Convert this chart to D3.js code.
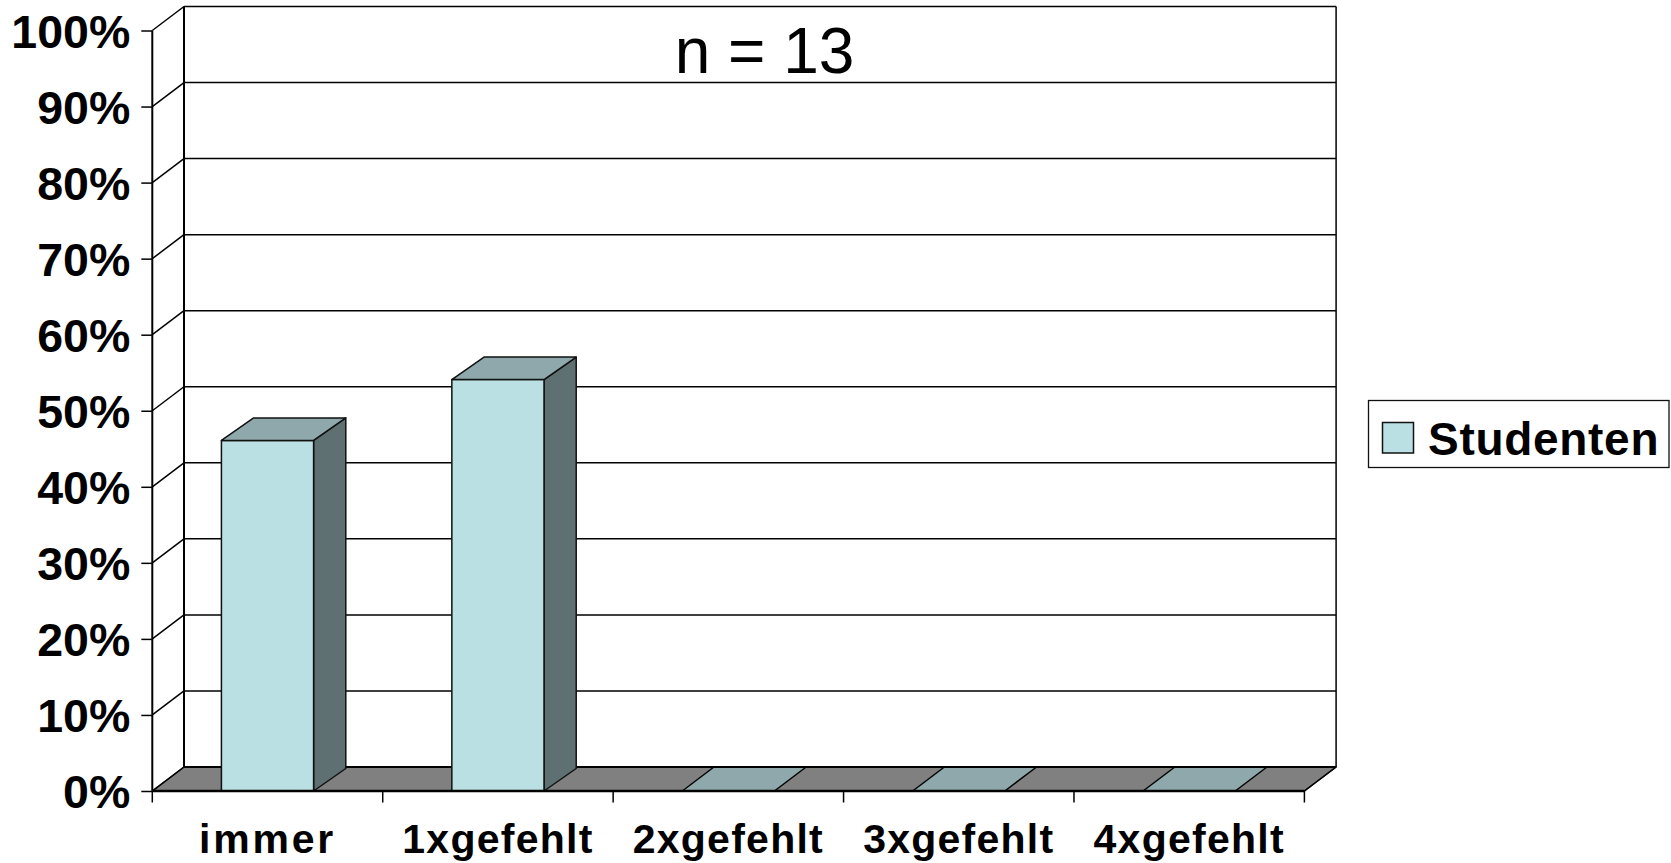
<!DOCTYPE html>
<html><head><meta charset="utf-8">
<script src="https://cdn.jsdelivr.net/npm/d3@7/dist/d3.min.js"></script>
<style>html,body{margin:0;padding:0;background:#fff}svg{display:block}
text{font-family:"Liberation Sans",Arial,sans-serif;fill:#000}</style>
</head><body><svg id="c" width="1671" height="863"></svg>
<script>
const categories=["immer","1xgefehlt","2xgefehlt","3xgefehlt","4xgefehlt"];
const values=[46.1,54.1,0,0,0];
const seriesName="Studenten";
const yTicks=[0,10,20,30,40,50,60,70,80,90,100];
const note="n = 13";

const X0=152.3,X1=1304.4,Y0=791,Y1=30.5,DX=31.7,DY=-24,BDX=32.2,BDY=-22.5;
const svg=d3.select("#c");
const x=d3.scaleBand().domain(categories).range([X0,X1]).paddingInner(0.6).paddingOuter(0.3);
const xCat=d3.scaleBand().domain(categories).range([X0,X1]);
const y=d3.scaleLinear().domain([0,100]).range([Y0,Y1]);
const LW=1.5;
const line=(a,b,c,d,w=LW)=>svg.append("line").attr("x1",a).attr("y1",b).attr("x2",c).attr("y2",d).attr("stroke","#000").attr("stroke-width",w);
const poly=(pts,fill)=>svg.append("polygon").attr("points",pts.map(p=>p.join(",")).join(" ")).attr("fill",fill).attr("stroke","#111").attr("stroke-width",LW).attr("stroke-linejoin","round");

// floor
poly([[X0,Y0],[X1,Y0],[X1+DX,Y0+DY],[X0+DX,Y0+DY]],"#808080");
// gridlines and wall
yTicks.forEach(t=>{
  if(t>0) line(X0+DX,y(t)+DY,X1+DX,y(t)+DY,LW);
  line(X0,y(t),X0+DX,y(t)+DY);
});
line(X0+DX,y(100)+DY,X0+DX,y(0)+DY,2);
line(X1+DX,y(100)+DY,X1+DX,y(0)+DY,LW);
line(X1,Y0,X1+DX,Y0+DY);

// flat bars lie on the floor, under its back edge
categories.forEach((c,i)=>{
  if(values[i]>0) return;
  const a=x(c),b=a+x.bandwidth(),v=y(values[i]);
  svg.append("polygon").attr("points",[[a,v],[b,v],[b+DX,v+DY],[a+DX,v+DY]].map(p=>p.join(",")).join(" ")).attr("fill","#8fa8ab");
  line(a,v,a+DX,v+DY); line(b,v,b+DX,v+DY);
});
line(X0+DX,y(0)+DY,X1+DX,y(0)+DY,2.2);

// standing bars
categories.forEach((c,i)=>{
  if(values[i]<=0) return;
  const a=x(c),b=a+x.bandwidth(),v=y(values[i]);
  poly([[b,v],[b+BDX,v+BDY],[b+BDX,Y0+BDY],[b,Y0]],"#5f7073");
  poly([[a,v],[b,v],[b,Y0],[a,Y0]],"#bae0e3");
  poly([[a,v],[b,v],[b+BDX,v+BDY],[a+BDX,v+BDY]],"#8fa8ab");
});

// axes
const yAxis=d3.axisLeft(y).tickValues(yTicks).tickFormat(d=>d+"%").tickSize(11).tickPadding(11);
const gy=svg.append("g").attr("transform",`translate(${X0},0)`).call(yAxis);
gy.select(".domain").attr("stroke-width",2).attr("d",`M0,${Y0}V${Y1}`);
gy.selectAll(".tick line").attr("stroke-width",LW);
gy.selectAll("text").attr("font-size",46.5).attr("font-weight","bold").style("font-family",'"Liberation Sans"').attr("dy","0.36em").attr("fill","#000");

const xAxis=d3.axisBottom(xCat).tickSize(0).tickPadding(0);
const gx=svg.append("g").attr("transform",`translate(0,${Y0})`).call(xAxis);
gx.select(".domain").attr("stroke-width",2.4).attr("d",`M${X0},0H${X1}`);
gx.selectAll("text").attr("font-size",41).attr("font-weight","bold").style("font-family",'"Liberation Sans"').attr("letter-spacing",d=>d==="immer"?"2.75":"1.25").attr("y",62.4).attr("dy",0).attr("fill","#000");
categories.concat("end").forEach((c,i)=>{const p=X0+i*xCat.bandwidth();line(p,Y0,p,Y0+11.5);});

// note
svg.append("text").attr("x",764.5).attr("y",72.5).attr("text-anchor","middle").attr("font-size",64).text(note);

// legend
svg.append("rect").attr("x",1368.5).attr("y",400.5).attr("width",300.5).attr("height",67).attr("fill","#fff").attr("stroke","#111").attr("stroke-width",1.3);
svg.append("rect").attr("x",1382.5).attr("y",422.5).attr("width",31).attr("height",30.5).attr("fill","#bae0e3").attr("stroke","#111").attr("stroke-width",1.5);
svg.append("text").attr("x",1428).attr("y",455).attr("font-size",46).attr("font-weight","bold").attr("letter-spacing","0.7").text(seriesName);
</script></body></html>
